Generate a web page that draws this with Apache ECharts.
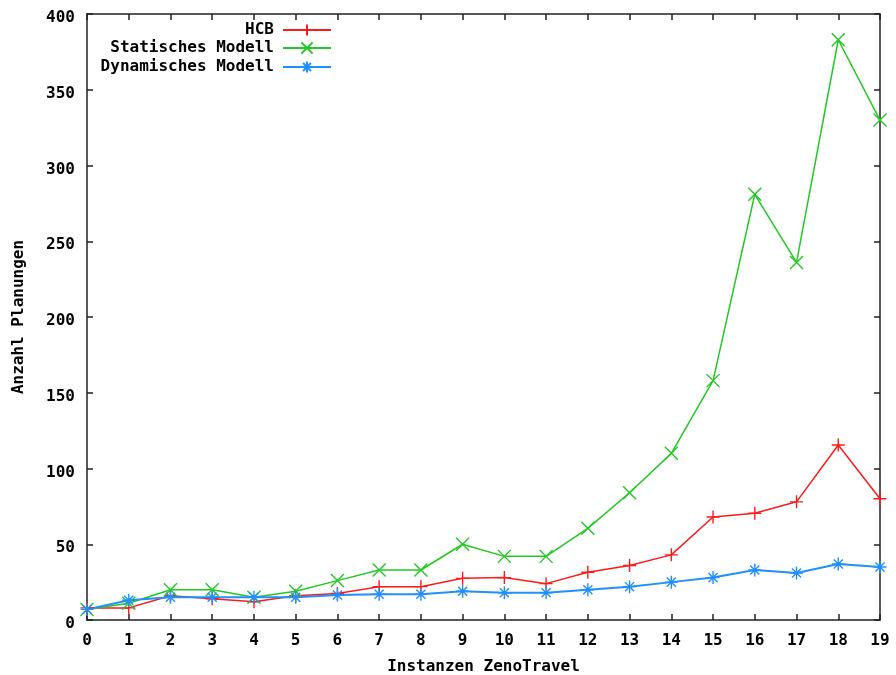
<!DOCTYPE html>
<html>
<head>
<meta charset="utf-8">
<script src="https://cdn.jsdelivr.net/npm/echarts@6/dist/echarts.min.js"></script>
<style>
  html, body { margin: 0; padding: 0; background: #fff; }
  #chart { width: 896px; height: 675px; }
</style>
</head>
<body>
<div id="chart"></div>
<script>
// Instance indices on the x axis
const instances = [0, 1, 2, 3, 4, 5, 6, 7, 8, 9, 10, 11, 12, 13, 14, 15, 16, 17, 18, 19];

// Number of plannings per instance
const hcb = [8, 8, 16, 14, 12, 16, 17.5, 22, 22, 27.5, 28, 24, 31.5, 36, 43, 68, 70.5, 78, 115.5, 80];
const statisch = [7, 11, 20, 20, 15, 19, 26, 33, 33, 50, 42, 42, 60.5, 84, 110, 158, 281, 236, 383, 330];
const dynamisch = [7, 13, 15, 15, 15, 15, 16.5, 17, 17, 19, 18, 18, 20, 22, 25, 28, 33, 31, 37, 35];

const seriesNames = ['HCB', 'Statisches Modell', 'Dynamisches Modell'];
const yTicks = [0, 50, 100, 150, 200, 250, 300, 350, 400];

const FONT = '"DejaVu Sans Mono", "Liberation Mono", monospace';
const AXIS_COLOR = '#222';

// gnuplot-style point glyphs: plus, cross, asterisk
const PLUS = 'path://M5,0L5,10M0,5L10,5';
const CROSS = 'path://M0,0L10,10M10,0L0,10';
const STAR = 'path://M5,0L5,10M0,5L10,5M1.5,1.5L8.5,8.5M8.5,1.5L1.5,8.5';

function pairs(vals) {
  return vals.map((v, i) => [instances[i], v]);
}

function lineSeries(name, vals, color, symbol, width) {
  return {
    name: name,
    type: 'line',
    data: pairs(vals),
    symbol: symbol,
    symbolSize: 13,
    showAllSymbol: true,
    color: color,
    lineStyle: { color: color, width: width },
    itemStyle: { color: color, borderColor: color, borderWidth: 1.4 },
    emphasis: { disabled: true },
    animation: false,
    z: 3
  };
}

function legendFor(name, top) {
  return {
    data: [name],
    right: 564,
    top: top,
    align: 'right',
    orient: 'vertical',
    itemWidth: 48,
    itemHeight: 14,
    padding: 0,
    selectedMode: false,
    textStyle: { fontFamily: FONT, fontWeight: 'bold', fontSize: 16, color: '#000', padding: [0, 4, 0, 0] }
  };
}

const chart = echarts.init(document.getElementById('chart'), null, { renderer: 'canvas' });

const axisLine = { show: true, onZero: false, lineStyle: { color: AXIS_COLOR, width: 1.5 } };
const tickStyle = { show: true, inside: true, length: 6, lineStyle: { color: AXIS_COLOR, width: 1.5 } };
const labelStyle = { fontFamily: FONT, fontWeight: 'bold', fontSize: 16, color: '#000' };

chart.setOption({
  backgroundColor: '#fff',
  animation: false,
  grid: { left: 87, right: 16, top: 14, bottom: 55, containLabel: false, outerBoundsMode: 'none' },
  legend: [
    legendFor(seriesNames[0], 22),
    legendFor(seriesNames[1], 40),
    legendFor(seriesNames[2], 59)
  ],
  xAxis: [
    {
      type: 'value', min: 0, max: 19, interval: 1, position: 'bottom',
      name: 'Instanzen ZenoTravel', nameLocation: 'middle', nameGap: 39,
      nameTextStyle: labelStyle,
      axisLine: axisLine, axisTick: tickStyle,
      axisLabel: Object.assign({ margin: 13 }, labelStyle),
      splitLine: { show: false }
    },
    {
      type: 'value', min: 0, max: 19, interval: 1, position: 'top',
      axisLine: axisLine, axisTick: tickStyle,
      axisLabel: { show: false }, splitLine: { show: false }
    }
  ],
  yAxis: [
    {
      type: 'value', min: yTicks[0], max: yTicks[yTicks.length - 1], interval: 50, position: 'left',
      name: 'Anzahl Planungen', nameLocation: 'middle', nameGap: 60, nameRotate: 90,
      nameTextStyle: labelStyle,
      axisLine: axisLine, axisTick: tickStyle,
      axisLabel: Object.assign({ margin: 12, verticalAlign: 'top', lineHeight: 8 }, labelStyle),
      splitLine: { show: false }
    },
    {
      type: 'value', min: yTicks[0], max: yTicks[yTicks.length - 1], interval: 50, position: 'right',
      axisLine: axisLine, axisTick: tickStyle,
      axisLabel: { show: false }, splitLine: { show: false }
    }
  ],
  series: [
    lineSeries(seriesNames[0], hcb, '#ff1a1a', PLUS, 1.5),
    lineSeries(seriesNames[1], statisch, '#22c922', CROSS, 1.5),
    lineSeries(seriesNames[2], dynamisch, '#2090ff', STAR, 2)
  ]
});
</script>
</body>
</html>
